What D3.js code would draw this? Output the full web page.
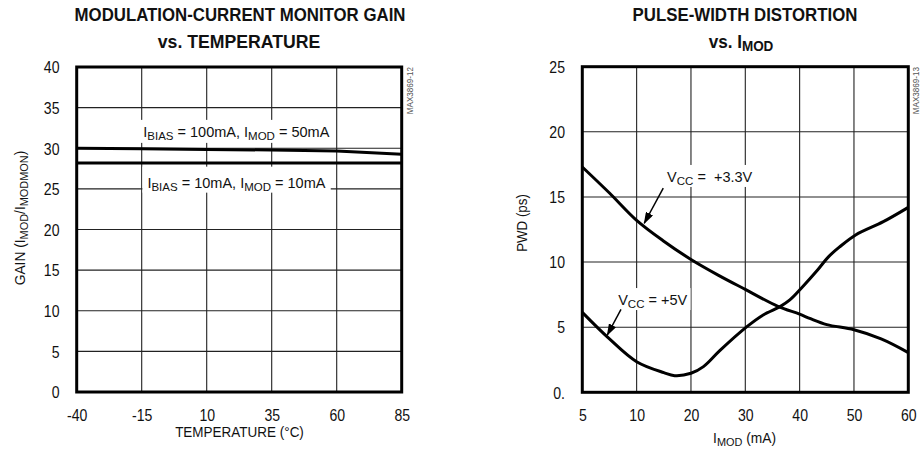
<!DOCTYPE html>
<html><head><meta charset="utf-8">
<script src="https://cdn.jsdelivr.net/npm/d3@7"></script>
<style>body{margin:0;background:#fff} text{white-space:pre}</style>
</head><body>
<svg id="c" width="921" height="453"></svg>
<script>
// ---------- data ----------
const tempTicks = [-40, -15, 10, 35, 60, 85];
const gainTicks = [0, 5, 10, 15, 20, 25, 30, 35, 40];
const gainHighTemp = [-40, -15, 10, 35, 60, 85];
const gainHigh = [30.0, 29.93, 29.86, 29.78, 29.66, 29.26];
const gainLowTemp = [-40, -15, 10, 35, 60, 85];
const gainLow = [28.2, 28.2, 28.2, 28.2, 28.2, 28.2];

const imodTicks = [5, 10, 20, 30, 40, 50, 60];
const pwdTicks = [0, 5, 10, 15, 20, 25];
const pwdTickLabels = ["0.", "5", "10", "15", "20", "25"];
const imod33 = [5, 7.5, 10, 15, 20, 25, 30, 36, 40, 42, 45, 50, 55, 60];
const pwd33 = [17.3, 15.3, 13.2, 11.6, 10.2, 9.0, 7.9, 6.6, 6.0, 5.65, 5.2, 4.8, 4.1, 3.05];
const imod5 = [5, 7.5, 10, 15, 17, 20, 22.3, 25.3, 30.3, 33.3, 36.4, 38.2, 40.3, 43.3, 45.3, 47.3, 50.3, 55.4, 60];
const pwd5 = [6.14, 4.1, 2.35, 1.51, 1.28, 1.46, 1.97, 3.2, 5.04, 5.94, 6.58, 7.09, 7.99, 9.39, 10.4, 11.14, 12.08, 13.1, 14.2];

// ---------- setup ----------
const FONT = '"Liberation Sans",Arial,Helvetica,sans-serif';
const svg = d3.select("#c").style("font-family", FONT);
const INK = "#111";

const defs = svg.append("defs");
defs.append("marker").attr("id", "ah").attr("markerUnits", "userSpaceOnUse")
  .attr("markerWidth", 12).attr("markerHeight", 8).attr("refX", 11).attr("refY", 4)
  .attr("orient", "auto")
  .append("path").attr("d", "M0,0 L12,4 L0,8 Z").attr("fill", "#000");

// rich text in a wrapper group: translate -> optional rotate -> horizontal condensing
function rich(parent, parts, x, y, o) {
  const w = parent.append("g")
    .attr("transform", `translate(${x},${y})${o.rotate ? ` rotate(${o.rotate})` : ""} scale(${o.sx || 1},1)`);
  const t = w.append("text").attr("x", 0).attr("y", 0)
    .attr("font-size", o.size).attr("fill", INK)
    .attr("font-weight", o.weight || "normal")
    .attr("text-anchor", o.anchor || "start");
  let shifted = false;
  parts.forEach(p => {
    const isSub = Array.isArray(p);
    const ts = t.append("tspan").text(isSub ? p[0] : p);
    if (isSub) {
      ts.attr("font-size", o.subSize);
      if (!shifted) { ts.attr("dy", o.subDy); shifted = true; }
    } else if (shifted) { ts.attr("dy", -o.subDy); shifted = false; }
  });
  return { w, t };
}
function boxed(r, padX, padTop, padBot) {
  const b = r.t.node().getBBox();
  r.w.insert("rect", () => r.t.node())
    .attr("x", b.x - padX).attr("y", b.y - padTop)
    .attr("width", b.width + 2 * padX).attr("height", b.height + padTop + padBot)
    .attr("fill", "#fff");
}

function panel(cfg) {
  const g = svg.append("g");
  const { x, y } = cfg;
  const xr = x.range(), yr = y.range();
  g.append("g").selectAll("line").data(cfg.xTicks.slice(1, -1)).join("line")
    .attr("x1", d => x(d)).attr("x2", d => x(d))
    .attr("y1", yr[0]).attr("y2", yr[yr.length - 1])
    .attr("stroke", "#222").attr("stroke-width", 1.1);
  g.append("g").selectAll("line").data(cfg.yTicks.slice(1, -1)).join("line")
    .attr("y1", d => y(d)).attr("y2", d => y(d))
    .attr("x1", xr[0]).attr("x2", xr[xr.length - 1])
    .attr("stroke", "#222").attr("stroke-width", 1.1);
  const xax = d3.axisBottom(x).tickValues(cfg.xTicks).tickSize(0).tickPadding(0)
    .tickFormat((d, i) => cfg.xLabels ? cfg.xLabels[i] : d);
  const gx = g.append("g").attr("transform", `translate(0,${cfg.xLabelY})`).call(xax);
  gx.select(".domain").remove();
  gx.selectAll("text").attr("y", 0).attr("dy", 0).attr("font-size", 16).attr("fill", INK)
    .attr("transform", `scale(${cfg.tickSx},1)`).style("font-family", FONT);
  const yax = d3.axisLeft(y).tickValues(cfg.yTicks).tickSize(0).tickPadding(0)
    .tickFormat((d, i) => cfg.yLabels ? cfg.yLabels[i] : d);
  const gy = g.append("g").attr("transform", `translate(${cfg.yLabelX},0)`).call(yax);
  gy.select(".domain").remove();
  gy.selectAll("text").attr("x", 0).attr("dy", "0.36em").attr("font-size", 16).attr("fill", INK)
    .attr("transform", `scale(${cfg.tickSx},1)`).style("font-family", FONT);
  return g;
}

const TSX = 0.88;   // condensing for axis text
const BSX = 0.885;  // condensing for bold titles

// ---------- LEFT CHART ----------
const xL = d3.scaleLinear().domain([-40, 85]).range([76.7, 401.7]);
const yL = d3.scaleLinear().domain([0, 40]).range([392, 67]);
const gL = panel({ x: xL, y: yL, xTicks: tempTicks, yTicks: gainTicks, xLabelY: 420.5, yLabelX: 59.5, tickSx: TSX });

const lab1 = rich(gL, ["I", ["BIAS"], " = 100mA, I", ["MOD"], " = 50mA"], xL(-14.4), yL(31.4),
  { size: 14.5, subSize: 11.5, subDy: 3 });
boxed(lab1, 3, 4, 1);
const lab2 = rich(gL, ["I", ["BIAS"], " = 10mA, I", ["MOD"], " = 10mA"], xL(-12.8), yL(25.15),
  { size: 14.5, subSize: 11.5, subDy: 3 });
boxed(lab2, 5, 8, 0);

const lineL = d3.line().x(d => xL(d[0])).y(d => yL(d[1]));
gL.append("path").datum(d3.zip(gainHighTemp, gainHigh)).attr("d", lineL)
  .attr("fill", "none").attr("stroke", "#000").attr("stroke-width", 3);
gL.append("path").datum(d3.zip(gainLowTemp, gainLow)).attr("d", lineL)
  .attr("fill", "none").attr("stroke", "#000").attr("stroke-width", 3);
gL.append("rect").attr("x", xL(-40)).attr("y", yL(40)).attr("width", xL(85) - xL(-40)).attr("height", yL(0) - yL(40))
  .attr("fill", "none").attr("stroke", "#000").attr("stroke-width", 3);

rich(svg, ["MODULATION-CURRENT MONITOR GAIN"], 240, 21, { size: 19, weight: "bold", anchor: "middle", sx: BSX });
rich(svg, ["vs. TEMPERATURE"], 239, 48, { size: 19, weight: "bold", anchor: "middle", sx: 0.93 });
rich(svg, ["TEMPERATURE (°C)"], 239.5, 437, { size: 15, anchor: "middle", sx: 0.9 });
rich(svg, ["GAIN (I", ["MOD"], "/I", ["MODMON"], ")"], 25, 218,
  { size: 14.5, subSize: 11.5, subDy: 3, anchor: "middle", rotate: -90, sx: 0.95 });
rich(svg, ["MAX3869-12"], 413, 67, { size: 9, anchor: "end", rotate: -90, sx: 0.9 }).t.attr("fill", "#555");

// ---------- RIGHT CHART ----------
const rx0 = 582.3, rx1 = 908.3;
const xR = d3.scaleLinear().domain(imodTicks)
  .range(imodTicks.map((d, i) => rx0 + i * (rx1 - rx0) / (imodTicks.length - 1)));
const yR = d3.scaleLinear().domain([0, 25]).range([392.3, 66.7]);
const gR = panel({ x: xR, y: yR, xTicks: imodTicks, yTicks: pwdTicks, yLabels: pwdTickLabels, xLabelY: 420.5, yLabelX: 565, tickSx: TSX });

const lab3 = rich(gR, ["V", ["CC"], " =  +3.3V"], xR(15.6), yR(16.15), { size: 14.5, subSize: 11.5, subDy: 3 });
boxed(lab3, 3, 4, 0);
const lab4 = rich(gR, ["V", ["CC"], " = +5V"], xR(8.3), yR(6.7), { size: 14.5, subSize: 11.5, subDy: 3 });
boxed(lab4, 3, 4, 0);

const lineR = d3.line().x(d => xR(d[0])).y(d => yR(d[1])).curve(d3.curveCatmullRom.alpha(0.5));
gR.append("path").datum(d3.zip(imod33, pwd33)).attr("d", lineR)
  .attr("fill", "none").attr("stroke", "#000").attr("stroke-width", 3);
gR.append("path").datum(d3.zip(imod5, pwd5)).attr("d", lineR)
  .attr("fill", "none").attr("stroke", "#000").attr("stroke-width", 3);

const arrows = [
  { from: [14.9, 15.67], to: [11.4, 12.98] },
  { from: [8.56, 6.37], to: [7.3, 4.4] }
];
gR.selectAll("line.arrow").data(arrows).join("line").attr("class", "arrow")
  .attr("x1", d => xR(d.from[0])).attr("y1", d => yR(d.from[1]))
  .attr("x2", d => xR(d.to[0])).attr("y2", d => yR(d.to[1]))
  .attr("stroke", "#000").attr("stroke-width", 1.5).attr("marker-end", "url(#ah)");

gR.append("rect").attr("x", rx0).attr("y", yR(25)).attr("width", rx1 - rx0).attr("height", yR(0) - yR(25))
  .attr("fill", "none").attr("stroke", "#000").attr("stroke-width", 3);

rich(svg, ["PULSE-WIDTH DISTORTION"], 745, 21, { size: 19, weight: "bold", anchor: "middle", sx: BSX });
rich(svg, ["vs. I", ["MOD"]], 741, 48, { size: 19, subSize: 15, subDy: 3, weight: "bold", anchor: "middle", sx: 0.9 });
rich(svg, ["I", ["MOD"], " (mA)"], 744.5, 443, { size: 14.5, subSize: 11.5, subDy: 3, anchor: "middle", sx: 0.95 });
rich(svg, ["PWD (ps)"], 527, 223, { size: 14.5, anchor: "middle", rotate: -90, sx: 0.92 });
rich(svg, ["MAX3869-13"], 919, 67, { size: 9, anchor: "end", rotate: -90, sx: 0.9 }).t.attr("fill", "#555");
</script>
</body></html>
